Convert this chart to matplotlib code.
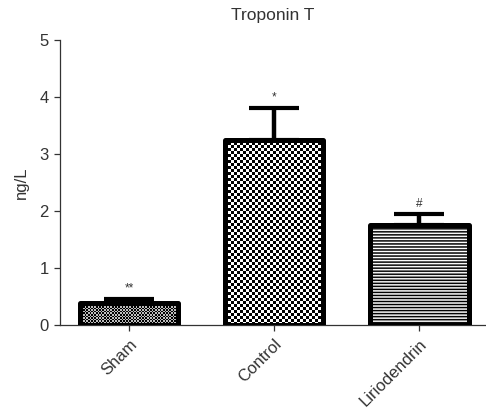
import numpy as np
import matplotlib
matplotlib.use("Agg")
import matplotlib.pyplot as plt

plt.rcParams["font.family"] = ["Liberation Sans", "DejaVu Sans"]

groups = ["Sham", "Control", "Liriodendrin"]
means = [0.38, 3.25, 1.75]
errors = [0.08, 0.56, 0.19]
marks = ["**", "*", "#"]
textures = ["checker", "checker", "stripes"]
cell_px = [1.6, 3.0, 1.5]
light = [1.35, 1.0, 1.0]  # >1 makes the light squares greyer

fig = plt.figure(figsize=(4.86, 4.16), dpi=100)
ax = fig.add_axes([0.1235, 0.219, 0.875, 0.685])

x = np.arange(len(groups))
width = 0.68
ax.set_xlim(-0.476, 2.455)
ax.set_ylim(0, 5)

ax.errorbar(x, means, yerr=[np.zeros(len(means)), errors], fmt="none",
            ecolor="black", elinewidth=3.2, capsize=18, capthick=3.0, zorder=1)

bars = ax.bar(x, means, width=width, facecolor="none", edgecolor="black",
              linewidth=3.6, joinstyle="round", zorder=3)

for bar, kind, cell, vmax in zip(bars, textures, cell_px, light):
    left, bottom = bar.get_x(), bar.get_y()
    right, top = left + bar.get_width(), bottom + bar.get_height()
    (px0, py0), (px1, py1) = ax.transData.transform([(left, bottom), (right, top)])
    ncols = max(int(round((px1 - px0) / cell)), 1)
    nrows = max(int(round((py1 - py0) / cell)), 1)
    ii, jj = np.indices((nrows, ncols))
    if kind == "checker":
        tex = (ii + jj) % 2
        interp = "nearest"
    else:
        tex = ii % 2
        interp = "antialiased"
    im = ax.imshow(tex, extent=[left, right, bottom, top], cmap="gray",
                   interpolation=interp, aspect="auto", zorder=2, vmin=0, vmax=vmax)
    im.set_clip_path(bar)

ax.set_xlim(-0.476, 2.455)
ax.set_ylim(0, 5)

for xi, m, e, s in zip(x, means, errors, marks):
    ax.annotate(s, (xi, m + e), xytext=(0, 3), textcoords="offset points",
                ha="center", va="bottom", fontsize=8.5, color="#333333")

ax.spines["top"].set_visible(False)
ax.spines["right"].set_visible(False)
for side in ["left", "bottom"]:
    ax.spines[side].set_linewidth(0.9)
    ax.spines[side].set_color("#333333")

ax.set_xticks(x)
ax.set_xticklabels(groups, rotation=45, ha="right", rotation_mode="anchor")
ax.set_yticks(range(6))
ax.tick_params(axis="both", labelsize=12, colors="#333333", length=4.5, width=0.9)
ax.tick_params(axis="x", pad=4)
ax.set_ylabel("ng/L", fontsize=12, color="#333333", labelpad=8)
ax.set_title("Troponin T", fontsize=12.5, color="#333333", pad=14)

fig.savefig("out.png", dpi=100)
